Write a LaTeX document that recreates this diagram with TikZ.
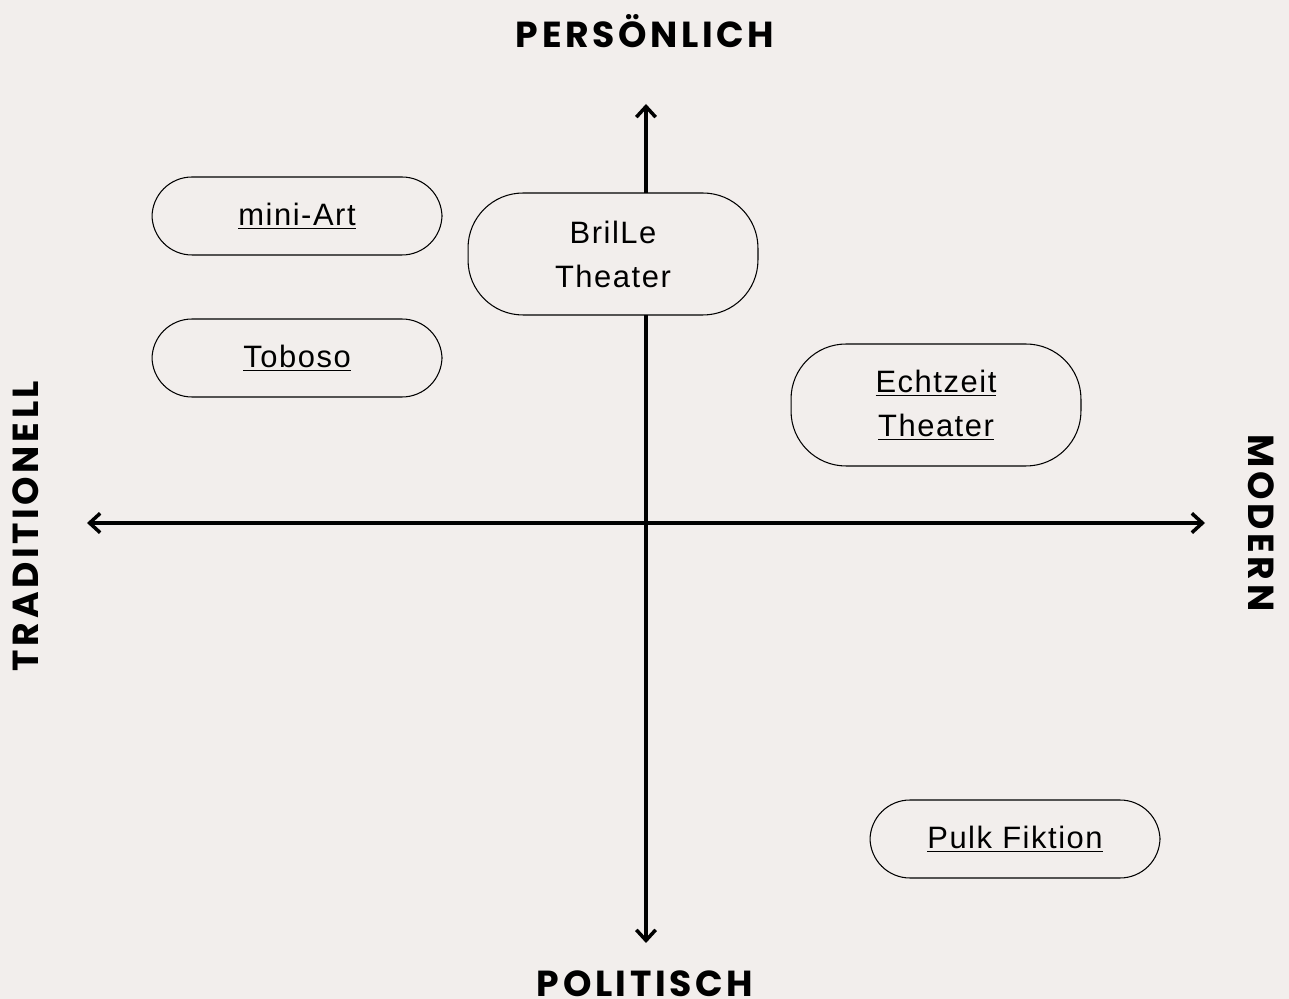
\documentclass[tikz,border=0pt]{standalone}
\usepackage{fontspec}
\setmainfont{Liberation Sans}[LetterSpace=5]
\newfontfamily\axisfont{Poppins}[LetterSpace=10]
\usetikzlibrary{arrows.meta}
\definecolor{paper}{RGB}{242,238,236}
\tikzset{
  theater/.style={draw, line width=0.6pt, fill=paper, rounded corners=0.8cm,
    minimum width=5.8cm, align=center, inner sep=0pt,
    font=\fontsize{17.6}{25}\selectfont},
  tall/.style={minimum height=2.44cm, rounded corners=1.1cm},
  axislabel/.style={font=\axisfont\bfseries\fontsize{20.6}{24}\selectfont},
  axisline/.style={line width=2.3pt, {Straight Barb[length=6pt,width=11pt,line width=2pt]}-{Straight Barb[length=6pt,width=11pt,line width=2pt]}}
}
\begin{document}
\begin{tikzpicture}[x=0.02cm, y=-0.02cm]
    \fill[paper] (0,0) rectangle (1289,999);
    \useasboundingbox (0,0) rectangle (1289,999);

    % axes
    \coordinate (top) at (646,104);
    \coordinate (bottom) at (646,943);
    \coordinate (left) at (87,523);
    \coordinate (right) at (1205,523);
    \draw[axisline] (left) -- (right);
    \draw[axisline] (bottom) -- (top);

    \node[axislabel] (pers) at (645,31) {PERSÖNLICH};
    \node[axislabel] (pol) at (645,984) {POLITISCH};
    \node[axislabel, rotate=90] (trad) at (26,526) {TRADITIONELL};
    \node[axislabel, rotate=-90] (mod) at (1261,523) {MODERN};

    % theaters
    \node[theater, minimum height=1.56cm] (miniart) at (297,216) {\underline{mini-Art}};
    \node[theater, minimum height=1.56cm] (toboso) at (297,358) {\underline{Toboso}};
    \node[theater, tall] (brille) at (613,254) {BrilLe\\Theater};
    \node[theater, tall] (echtzeit) at (936,405) {\underline{Echtzeit}\\\underline{Theater}};
    \node[theater, minimum height=1.56cm] (pulk) at (1015,839) {\underline{Pulk Fiktion}};
\end{tikzpicture}
\end{document}
